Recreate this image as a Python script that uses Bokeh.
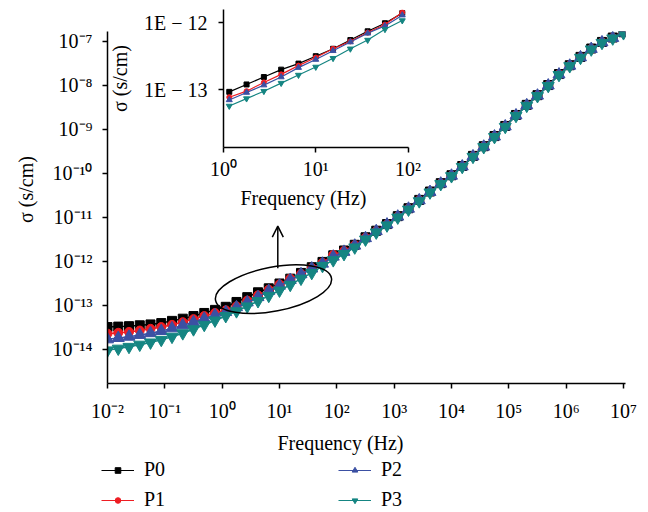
from math import pi
from bokeh.plotting import figure
from bokeh.layouts import column
from bokeh.models import (ColumnDataSource, FixedTicker, CustomJSTickFormatter, Label,
                          Legend, LegendItem, Arrow, OpenHead, GridBox)
from bokeh.embed import file_html
from bokeh.resources import INLINE

FONT = "Liberation Serif"
FS = "20px"
W, H = 648, 512

# ---------------- data ----------------
freq_hz = [1.000e7, 6.494e6, 4.217e6, 2.738e6, 1.778e6, 1.155e6, 7.499e5, 4.870e5, 3.162e5,
           2.054e5, 1.334e5, 8.660e4, 5.623e4, 3.652e4, 2.371e4, 1.540e4, 1.000e4, 6494.0,
           4217.0, 2738.0, 1778.0, 1155.0, 749.9, 487.0, 316.2, 205.4, 133.4, 86.60, 56.23,
           36.52, 23.71, 15.40, 10.00, 6.494, 4.217, 2.738, 1.778, 1.155, 0.7499, 0.4870,
           0.3162, 0.2054, 0.1334, 0.08660, 0.05623, 0.03652, 0.02371, 0.01540, 0.01000]

# log10 of conductivity sigma (s/cm)
p0_log_sigma = [-6.79, -6.91, -7.01, -7.16, -7.35, -7.54, -7.74, -7.99, -8.22, -8.44, -8.67,
                -8.92, -9.15, -9.38, -9.60, -9.83, -10.04, -10.22, -10.41, -10.60, -10.79,
                -10.97, -11.15, -11.30, -11.45, -11.62, -11.75,
                -11.86, -12.01, -12.13, -12.26, -12.39, -12.50, -12.61, -12.70, -12.81, -12.92,
                -13.03,
                -13.10, -13.17, -13.24, -13.30, -13.35, -13.40, -13.43, -13.45, -13.47, -13.48,
                -13.49]
p1_log_sigma = [-6.80, -6.92, -7.02, -7.17, -7.36, -7.55, -7.75, -8.00, -8.23, -8.45, -8.68,
                -8.93, -9.16, -9.39, -9.61, -9.84, -10.05, -10.23, -10.42, -10.61, -10.80,
                -10.98, -11.16, -11.31, -11.46, -11.63, -11.76,
                -11.85, -12.03, -12.15, -12.28, -12.39, -12.52, -12.64, -12.77, -12.89, -13.02,
                -13.11,
                -13.17, -13.24, -13.31, -13.38, -13.44, -13.49, -13.53, -13.57, -13.60, -13.62,
                -13.64]
p2_log_sigma = [-6.80, -6.92, -7.02, -7.17, -7.36, -7.55, -7.75, -8.00, -8.23, -8.45, -8.68,
                -8.93, -9.16, -9.39, -9.61, -9.84, -10.05, -10.23, -10.42, -10.61, -10.80,
                -10.98, -11.16, -11.31, -11.47, -11.64, -11.78,
                -11.89, -12.05, -12.16, -12.29, -12.42, -12.55, -12.67, -12.81, -12.93, -13.04,
                -13.15,
                -13.22, -13.30, -13.38, -13.45, -13.52, -13.58, -13.63, -13.67, -13.71, -13.74,
                -13.77]
p3_log_sigma = [-6.81, -6.93, -7.03, -7.18, -7.37, -7.56, -7.76, -8.01, -8.24, -8.46, -8.69,
                -8.94, -9.17, -9.40, -9.62, -9.85, -10.06, -10.24, -10.43, -10.63, -10.82,
                -11.00, -11.18, -11.34, -11.50, -11.68, -11.83,
                -11.97, -12.10, -12.26, -12.39, -12.53, -12.66, -12.78, -12.90, -13.02, -13.13,
                -13.24,
                -13.34, -13.44, -13.54, -13.63, -13.71, -13.78, -13.84, -13.89, -13.94, -13.98,
                -14.02]

series_names = ["P0", "P1", "P2", "P3"]
series_logs = [p0_log_sigma, p1_log_sigma, p2_log_sigma, p3_log_sigma]
series_colors = ["#000000", "#ee1d23", "#3b50a3", "#158582"]
series_markers = ["square", "circle", "triangle", "inverted_triangle"]
main_marker_sizes = [9, 9, 12, 12]
inset_marker_sizes = [5, 5, 6, 6]

main_x_ticks = [1e-2, 1e-1, 1e0, 1e1, 1e2, 1e3, 1e4, 1e5, 1e6, 1e7]
main_y_ticks = [1e-14, 1e-13, 1e-12, 1e-11, 1e-10, 1e-9, 1e-8, 1e-7]
inset_x_ticks = [1e0, 1e1, 1e2]
inset_y_ticks = [1e-13, 1e-12]
inset_f_min, inset_f_max = 1.0, 100.0

x_title = "Frequency (Hz)"
y_title = "σ (s/cm)"

SUP_JS = """
const sup = {'-':'\u207b','0':'\u2070','1':'\u00b9','2':'\u00b2','3':'\u00b3','4':'\u2074',
             '5':'\u2075','6':'\u2076','7':'\u2077','8':'\u2078','9':'\u2079'};
const e = Math.round(Math.log10(tick));
return '10' + String(e).split('').map(c => sup[c]).join('');
"""
E_JS = """
const e = Math.round(Math.log10(tick));
return '1E \u2212 ' + String(-e);
"""


def style_axis(ax, standoff):
    ax.axis_line_width = 1.5
    ax.axis_line_color = "black"
    ax.major_tick_line_width = 1.5
    ax.major_tick_line_color = "black"
    ax.major_tick_in = 0
    ax.major_tick_out = 5
    ax.minor_tick_line_color = None
    ax.major_label_text_font = FONT
    ax.major_label_text_font_size = FS
    ax.major_label_text_color = "black"
    ax.major_label_standoff = standoff


def bare(fig):
    fig.background_fill_color = None
    fig.border_fill_color = None
    fig.outline_line_color = None


# ---------------- main figure ----------------
p = figure(width=W, height=H, x_axis_type="log", y_axis_type="log",
           x_range=(1e-2, 10 ** 7.035), y_range=(10 ** -14.773, 10 ** -6.773),
           output_backend="svg", toolbar_location=None,
           min_border_left=107, min_border_right=23, min_border_top=31, min_border_bottom=129)
p.outline_line_color = None
p.xgrid.visible = False
p.ygrid.visible = False
style_axis(p.xaxis[0], 11)
style_axis(p.yaxis[0], 10)
p.xaxis[0].ticker = FixedTicker(ticks=main_x_ticks)
p.yaxis[0].ticker = FixedTicker(ticks=main_y_ticks)
p.xaxis[0].formatter = CustomJSTickFormatter(code=SUP_JS)
p.yaxis[0].formatter = CustomJSTickFormatter(code=SUP_JS)

sources = []
for name, logs, color, marker, msize in zip(series_names, series_logs, series_colors,
                                            series_markers, main_marker_sizes):
    src = ColumnDataSource(dict(f=freq_hz, s=[10 ** v for v in logs]))
    sources.append(src)
    p.line("f", "s", source=src, line_color=color, line_width=1.5)
    p.scatter("f", "s", source=src, marker=marker, size=msize,
              fill_color=color, line_color=color)

# highlight ellipse and arrow pointing to the inset
ellipse_center = (7.86, 2.35e-13)
p.ellipse(x=[ellipse_center[0]], y=[ellipse_center[1]], width=118, height=44, angle=0.19,
          width_units="screen", height_units="screen",
          fill_color=None, line_color="black", line_width=1.5)
p.add_layout(Arrow(end=OpenHead(size=11, line_width=1.5, line_color="black"),
                   x_start=9.34, y_start=7.05e-13, x_end=9.34, y_end=6.34e-12,
                   line_width=1.5, line_color="black"))

# ---------------- inset figure ----------------
q = figure(width=W, height=H, x_axis_type="log", y_axis_type="log",
           x_range=(1.0, 10 ** 2.005), y_range=(10 ** -13.857, 10 ** -11.806),
           output_backend="svg", toolbar_location=None,
           min_border_left=223, min_border_right=240, min_border_top=9, min_border_bottom=365)
bare(q)
q.xgrid.visible = False
q.ygrid.visible = False
style_axis(q.xaxis[0], 5)
style_axis(q.yaxis[0], 11)
q.xaxis[0].ticker = FixedTicker(ticks=inset_x_ticks)
q.yaxis[0].ticker = FixedTicker(ticks=inset_y_ticks)
q.xaxis[0].formatter = CustomJSTickFormatter(code=SUP_JS)
q.yaxis[0].formatter = CustomJSTickFormatter(code=E_JS)
q.yaxis[0].axis_label = y_title
q.yaxis[0].axis_label_text_font = FONT
q.yaxis[0].axis_label_text_font_size = FS
q.yaxis[0].axis_label_text_font_style = "normal"
q.yaxis[0].axis_label_text_color = "black"
q.yaxis[0].axis_label_standoff = 10

for name, logs, color, marker, msize in zip(series_names, series_logs, series_colors,
                                            series_markers, inset_marker_sizes):
    sel = [(f, 10 ** v) for f, v in zip(freq_hz, logs) if inset_f_min <= f <= inset_f_max]
    src = ColumnDataSource(dict(f=[a for a, b in sel], s=[b for a, b in sel]))
    q.line("f", "s", source=src, line_color=color, line_width=1.2)
    q.scatter("f", "s", source=src, marker=marker, size=msize,
              fill_color=color, line_color=color)

# ---------------- overlay for titles and legend (frame = whole canvas) ----------------
r = figure(width=W, height=H, x_range=(0, 1), y_range=(1, 2),
           x_axis_location=None, y_axis_location=None,
           output_backend="svg", toolbar_location=None,
           min_border_left=0, min_border_right=0, min_border_top=0, min_border_bottom=0)
bare(r)
r.xgrid.visible = False
r.ygrid.visible = False

items = []
for name, src, color, marker in zip(series_names, sources, series_colors, series_markers):
    # same data as the main plot; this canvas' y range (1..2) keeps them out of view
    lr = r.line("f", "s", source=src, line_color=color, line_width=1.2)
    sr = r.scatter("f", "s", source=src, marker=marker, size=6,
                   fill_color=color, line_color=color)
    items.append(LegendItem(label=name, renderers=[lr, sr]))

legend = Legend(items=items, location=(101, 1), orientation="vertical", nrows=2,
                glyph_width=33, glyph_height=14, label_height=20, label_width=187,
                label_standoff=10, spacing=7, padding=0, margin=0,
                border_line_color=None, background_fill_alpha=0,
                label_text_font=FONT, label_text_font_size=FS, label_text_color="black")
r.add_layout(legend)

r.add_layout(Label(x=340, y=H - 442, x_units="screen", y_units="screen", text=x_title,
                   text_align="center", text_baseline="middle", text_color="black",
                   text_font=FONT, text_font_size=FS))
r.add_layout(Label(x=25, y=H - 189, x_units="screen", y_units="screen", text=y_title,
                   angle=pi / 2, text_align="center", text_baseline="middle",
                   text_color="black", text_font=FONT, text_font_size=FS))
r.add_layout(Label(x=303, y=H - 197, x_units="screen", y_units="screen", text=x_title,
                   text_align="center", text_baseline="middle", text_color="black",
                   text_font=FONT, text_font_size=FS))

layout = GridBox(children=[(column(p), 0, 0), (column(q), 0, 0), (column(r), 0, 0)])

open("out.html", "w").write(file_html(layout, INLINE))
